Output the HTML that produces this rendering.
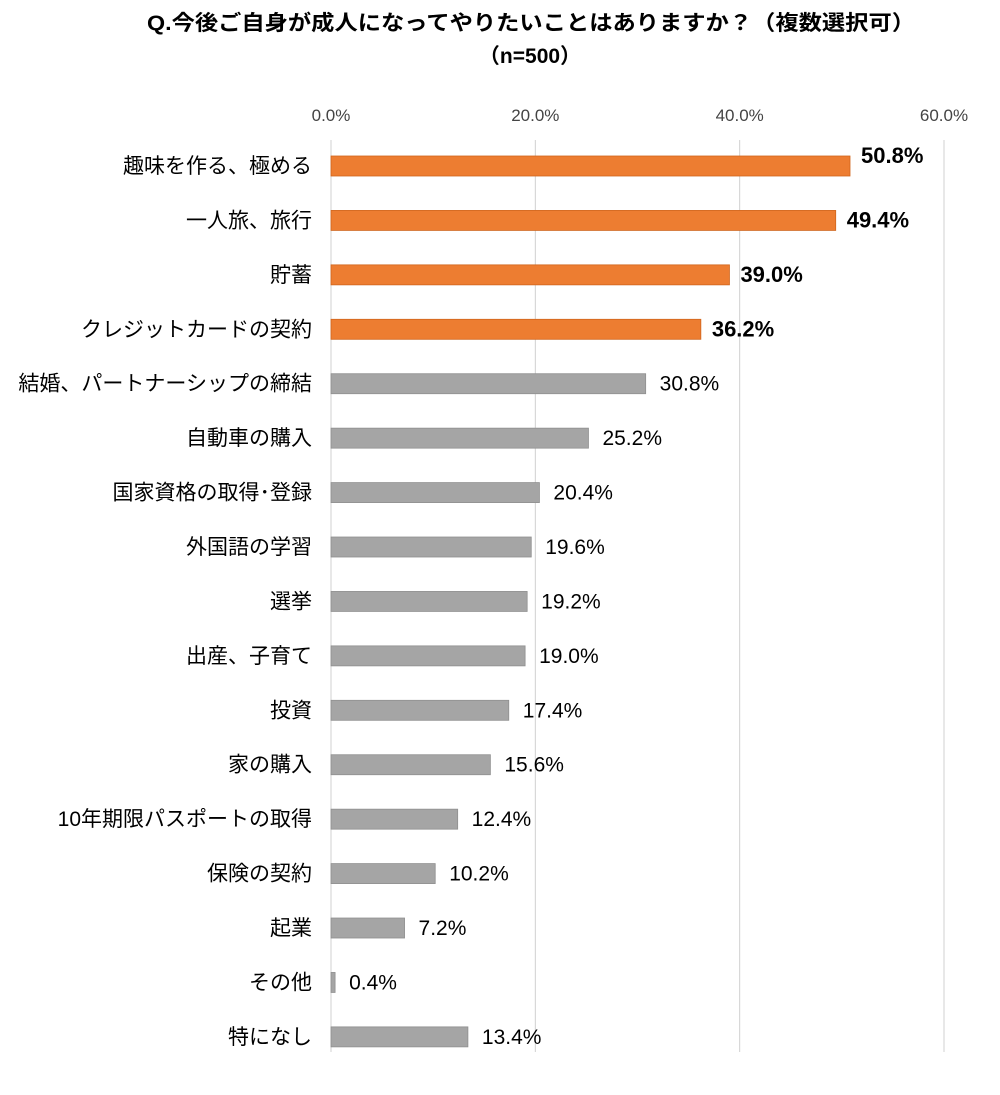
<!DOCTYPE html>
<html><head><meta charset="utf-8">
<style>
html,body{margin:0;padding:0;background:#fff;}
body{width:1000px;height:1090px;overflow:hidden;font-family:"Liberation Sans","Noto Sans CJK JP",sans-serif;}
</style></head>
<body>
<svg id="chart" width="1000" height="1090" xmlns="http://www.w3.org/2000/svg" font-family="'Liberation Sans','Noto Sans CJK JP',sans-serif">
<text x="531" y="30" text-anchor="middle" font-size="21" font-weight="bold" fill="#000" textLength="768" lengthAdjust="spacingAndGlyphs">Q.今後ご自身が成人になってやりたいことはありますか？（複数選択可）</text>
<text x="530" y="63" text-anchor="middle" font-size="21" font-weight="bold" fill="#000">（n=500）</text>
</svg>
<script>
const categories=["趣味を作る、極める","一人旅、旅行","貯蓄","クレジットカードの契約","結婚、パートナーシップの締結","自動車の購入","国家資格の取得･登録","外国語の学習","選挙","出産、子育て","投資","家の購入","10年期限パスポートの取得","保険の契約","起業","その他","特になし"];
const values=[50.8,49.4,39.0,36.2,30.8,25.2,20.4,19.6,19.2,19.0,17.4,15.6,12.4,10.2,7.2,0.4,13.4];
const highlighted=[true,true,true,true,false,false,false,false,false,false,false,false,false,false,false,false,false];
const ticks=[0,20,40,60];
const tickLabels=["0.0%","20.0%","40.0%","60.0%"];
const svg=document.getElementById('chart');
const NS="http://www.w3.org/2000/svg";
const x=v=>331+v*(944-331)/60;
const y=i=>166+i*54.43;
function mk(t,a){const e=document.createElementNS(NS,t);for(const k in a)e.setAttribute(k,a[k]);svg.appendChild(e);return e;}
ticks.forEach((t,i)=>{
  const g=mk('line',{x1:x(t),x2:x(t),y1:140,y2:1052,stroke:'#d0d0d0','stroke-width':1});
  
  
  const l=mk('text',{x:x(t),y:121,'text-anchor':'middle','font-size':17,fill:'#444'});
  l.textContent=tickLabels[i];
  
  
});
categories.forEach((c,i)=>{
  const cy=y(i);
  const lab=mk('text',{x:312,y:cy+7,'text-anchor':'end','font-size':21,fill:'#000'});
  lab.textContent=c;
  
  
  const hi=highlighted[i];
  const b=mk('rect',{x:x(0),y:cy-10,width:Math.max(x(values[i])-x(0),1),height:20,fill:hi?'#ed7d31':'#a5a5a5',stroke:hi?'#d0651c':'#8f8f8f','stroke-width':0.8});
  
  
  const v=mk('text',{x:x(values[i])+(hi?11:14),y:cy+7-(i===0?10:0),'font-size':hi?22:21,'font-weight':hi?'bold':'normal',fill:'#000'});
  v.textContent=values[i].toFixed(1)+'%';
  
  
});
</script>
</body></html>
